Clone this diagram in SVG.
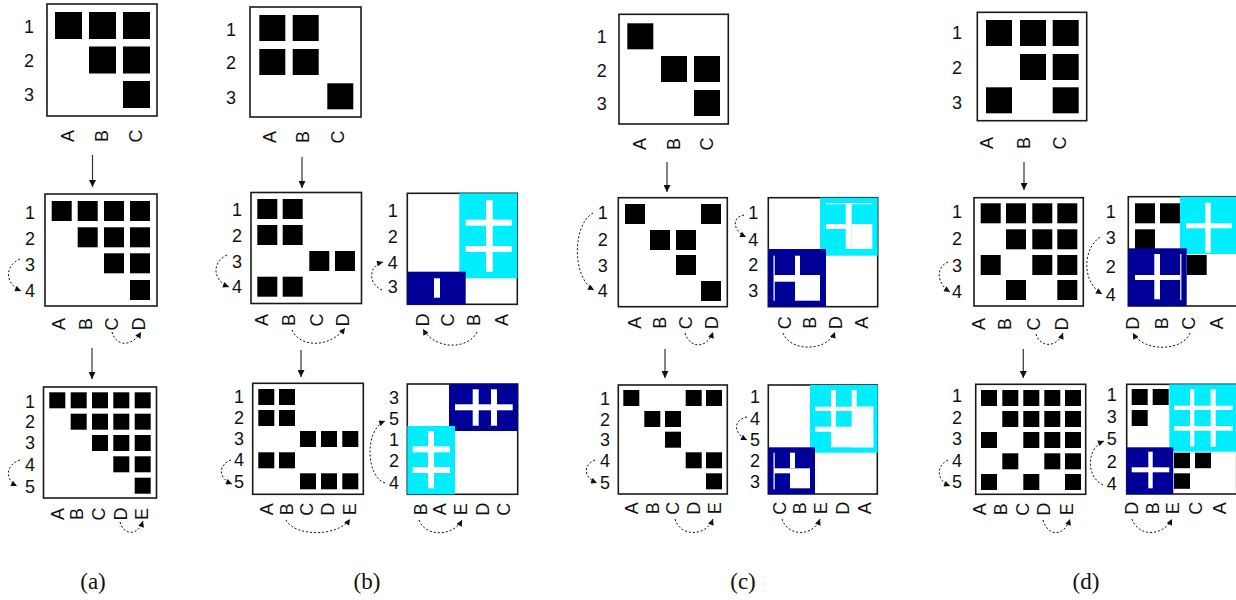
<svg xmlns="http://www.w3.org/2000/svg" width="1236" height="600" viewBox="0 0 1236 600">
<defs>
<style>
.box{fill:#fff;stroke:#1a1a1a;stroke-width:1.6}
.k{fill:#000}
.cy{fill:#00EEFF}
.nv{fill:#000099}
.w{fill:#fff}
.lb{font-family:"Liberation Sans",Arial,sans-serif;font-size:18px;fill:#111;text-anchor:middle;dominant-baseline:central}
.cap{font-family:"Liberation Serif","Times New Roman",serif;font-size:23px;fill:#111;text-anchor:middle;dominant-baseline:central}
.dot{fill:none;stroke:#111;stroke-width:1;stroke-dasharray:2 2;marker-end:url(#dh)}
.arr{fill:none;stroke:#333;stroke-width:1.2;marker-end:url(#ah)}
</style>
<marker id="ah" viewBox="0 0 10 10" refX="10" refY="5" markerWidth="8" markerHeight="7" orient="auto" markerUnits="userSpaceOnUse"><path d="M0,0 L10,5 L0,10 z" fill="#111"/></marker>
<marker id="dh" viewBox="0 0 10 10" refX="10" refY="5" markerWidth="7" markerHeight="6" orient="auto" markerUnits="userSpaceOnUse"><path d="M0,0 L10,5 L0,10 z" fill="#111"/></marker>
</defs>
<rect width="1236" height="600" fill="#fff"/>

<!-- ===== Panel (a) ===== -->
<g id="a1">
<rect class="box" x="47" y="4" width="110" height="112"/>
<rect class="k" x="55" y="12" width="27" height="27"/><rect class="k" x="89" y="12" width="27" height="27"/><rect class="k" x="123" y="12" width="27" height="27"/>
<rect class="k" x="89" y="46.5" width="27" height="27"/><rect class="k" x="123" y="46.5" width="27" height="27"/>
<rect class="k" x="123" y="81" width="27" height="27"/>
<text class="lb" x="29" y="27">1</text><text class="lb" x="29" y="61">2</text><text class="lb" x="29" y="95">3</text>
<text class="lb" transform="translate(68,136) rotate(-90)">A</text><text class="lb" transform="translate(102,136) rotate(-90)">B</text><text class="lb" transform="translate(136,136) rotate(-90)">C</text>
</g>
<g id="a2">
<rect class="box" x="45" y="194" width="112" height="112"/>
<rect class="k" x="51.7" y="201" width="20" height="20"/><rect class="k" x="77.7" y="201" width="20" height="20"/><rect class="k" x="104" y="201" width="20" height="20"/><rect class="k" x="130" y="201" width="20" height="20"/>
<rect class="k" x="77.7" y="227.3" width="20" height="20"/><rect class="k" x="104" y="227.3" width="20" height="20"/><rect class="k" x="130" y="227.3" width="20" height="20"/>
<rect class="k" x="104" y="253.3" width="20" height="20"/><rect class="k" x="130" y="253.3" width="20" height="20"/>
<rect class="k" x="130" y="280" width="20" height="20"/>
<text class="lb" x="30" y="213">1</text><text class="lb" x="30" y="239">2</text><text class="lb" x="30" y="265">3</text><text class="lb" x="30" y="291">4</text>
<text class="lb" transform="translate(59,324) rotate(-90)">A</text><text class="lb" transform="translate(86,324) rotate(-90)">B</text><text class="lb" transform="translate(112,324) rotate(-90)">C</text><text class="lb" transform="translate(139,324) rotate(-90)">D</text>
</g>
<g id="a3">
<rect class="box" x="43.5" y="387" width="113" height="111"/>
<rect class="k" x="49.3" y="392.3" width="16" height="16"/><rect class="k" x="70.7" y="392.3" width="16" height="16"/><rect class="k" x="92" y="392.3" width="16" height="16"/><rect class="k" x="113.3" y="392.3" width="16" height="16"/><rect class="k" x="134.7" y="392.3" width="16" height="16"/>
<rect class="k" x="70.7" y="413.7" width="16" height="16"/><rect class="k" x="92" y="413.7" width="16" height="16"/><rect class="k" x="113.3" y="413.7" width="16" height="16"/><rect class="k" x="134.7" y="413.7" width="16" height="16"/>
<rect class="k" x="92" y="435" width="16" height="16"/><rect class="k" x="113.3" y="435" width="16" height="16"/><rect class="k" x="134.7" y="435" width="16" height="16"/>
<rect class="k" x="113.3" y="456.3" width="16" height="16"/><rect class="k" x="134.7" y="456.3" width="16" height="16"/>
<rect class="k" x="134.7" y="477.7" width="16" height="16"/>
<text class="lb" x="30" y="401.7">1</text><text class="lb" x="30" y="422.3">2</text><text class="lb" x="30" y="443.3">3</text><text class="lb" x="30" y="465">4</text><text class="lb" x="30" y="486.7">5</text>
<text class="lb" transform="translate(57.5,514) rotate(-90)">A</text><text class="lb" transform="translate(77,514) rotate(-90)">B</text><text class="lb" transform="translate(98.5,514) rotate(-90)">C</text><text class="lb" transform="translate(120.5,514) rotate(-90)">D</text><text class="lb" transform="translate(142,514) rotate(-90)">E</text>
</g>

<!-- ===== Panel (b) ===== -->
<g id="b1">
<rect class="box" x="250" y="7" width="111" height="110"/>
<rect class="k" x="259.3" y="15" width="26" height="26"/><rect class="k" x="292.7" y="15" width="26" height="26"/>
<rect class="k" x="259.3" y="49" width="26" height="26"/><rect class="k" x="292.7" y="49" width="26" height="26"/>
<rect class="k" x="327.3" y="83.3" width="26" height="26"/>
<text class="lb" x="231" y="30">1</text><text class="lb" x="231" y="63">2</text><text class="lb" x="231" y="98">3</text>
<text class="lb" transform="translate(270,137) rotate(-90)">A</text><text class="lb" transform="translate(303,137) rotate(-90)">B</text><text class="lb" transform="translate(338,137) rotate(-90)">C</text>
</g>
<g id="b2">
<rect class="box" x="251" y="192.5" width="110.5" height="111"/>
<rect class="k" x="257.3" y="199" width="20" height="20"/><rect class="k" x="282.7" y="199" width="20" height="20"/>
<rect class="k" x="257.3" y="225" width="20" height="20"/><rect class="k" x="282.7" y="225" width="20" height="20"/>
<rect class="k" x="309.3" y="251" width="20" height="20"/><rect class="k" x="335" y="251" width="20" height="20"/>
<rect class="k" x="257.3" y="276.7" width="20" height="20"/><rect class="k" x="282.7" y="276.7" width="20" height="20"/>
<text class="lb" x="237" y="210">1</text><text class="lb" x="237" y="235.7">2</text><text class="lb" x="237" y="261.7">3</text><text class="lb" x="237" y="287.3">4</text>
<text class="lb" transform="translate(261.7,320) rotate(-90)">A</text><text class="lb" transform="translate(289.3,320) rotate(-90)">B</text><text class="lb" transform="translate(316.7,320) rotate(-90)">C</text><text class="lb" transform="translate(343.3,320) rotate(-90)">D</text>
</g>
<g id="b3">
<rect class="box" x="407.3" y="193.3" width="110" height="111"/>
<rect class="cy" x="459.3" y="193.3" width="58" height="85"/>
<rect class="w" x="486" y="200" width="6.7" height="71.7"/>
<rect class="w" x="465.7" y="219.7" width="46" height="6"/>
<rect class="w" x="465.7" y="246" width="46" height="6"/>
<rect class="nv" x="407.3" y="271.7" width="58.4" height="32.6"/>
<rect class="w" x="434" y="278.3" width="6" height="19.4"/>
<text class="lb" x="392.7" y="211">1</text><text class="lb" x="392.7" y="236.7">2</text><text class="lb" x="392.7" y="262.7">4</text><text class="lb" x="392.7" y="287.3">3</text>
<text class="lb" transform="translate(422.7,320) rotate(-90)">D</text><text class="lb" transform="translate(448.3,320) rotate(-90)">C</text><text class="lb" transform="translate(474,320) rotate(-90)">B</text><text class="lb" transform="translate(501.7,320) rotate(-90)">A</text>
</g>
<g id="b4">
<rect class="box" x="252.7" y="383.3" width="110.6" height="111"/>
<rect class="k" x="258.3" y="389" width="16" height="16"/><rect class="k" x="279" y="389" width="16" height="16"/>
<rect class="k" x="258.3" y="410" width="16" height="16"/><rect class="k" x="279" y="410" width="16" height="16"/>
<rect class="k" x="300" y="431" width="16" height="16"/><rect class="k" x="321" y="431" width="16" height="16"/><rect class="k" x="342.3" y="431" width="16" height="16"/>
<rect class="k" x="258.3" y="452.3" width="16" height="16"/><rect class="k" x="279" y="452.3" width="16" height="16"/>
<rect class="k" x="300" y="473.3" width="16" height="16"/><rect class="k" x="321" y="473.3" width="16" height="16"/><rect class="k" x="342.3" y="473.3" width="16" height="16"/>
<text class="lb" x="239" y="397.3">1</text><text class="lb" x="239" y="418.3">2</text><text class="lb" x="239" y="439.3">3</text><text class="lb" x="239" y="460">4</text><text class="lb" x="239" y="481.7">5</text>
<text class="lb" transform="translate(266.7,509.3) rotate(-90)">A</text><text class="lb" transform="translate(287.3,509.3) rotate(-90)">B</text><text class="lb" transform="translate(307.3,509.3) rotate(-90)">C</text><text class="lb" transform="translate(328.3,509.3) rotate(-90)">D</text><text class="lb" transform="translate(350,509.3) rotate(-90)">E</text>
</g>
<g id="b5">
<rect class="box" x="407.3" y="384" width="110.4" height="110.3"/>
<rect class="nv" x="449" y="384" width="68.7" height="47"/>
<rect class="w" x="455" y="404.3" width="57.7" height="6"/>
<rect class="w" x="472.7" y="389.3" width="6" height="36.4"/>
<rect class="w" x="491" y="389.3" width="6" height="36.4"/>
<rect class="cy" x="407.3" y="426" width="47.7" height="68.3"/>
<rect class="w" x="428" y="431" width="6" height="57.3"/>
<rect class="w" x="412.7" y="446.3" width="37.3" height="6"/>
<rect class="w" x="412.7" y="467" width="37.3" height="6"/>
<text class="lb" x="394" y="398.3">3</text><text class="lb" x="394" y="419.3">5</text><text class="lb" x="394" y="440">1</text><text class="lb" x="394" y="460.7">2</text><text class="lb" x="394" y="482.7">4</text>
<text class="lb" transform="translate(420.7,509.3) rotate(-90)">B</text><text class="lb" transform="translate(440,509.3) rotate(-90)">A</text><text class="lb" transform="translate(460.7,509.3) rotate(-90)">E</text><text class="lb" transform="translate(482.7,509.3) rotate(-90)">D</text><text class="lb" transform="translate(504,509.3) rotate(-90)">C</text>
</g>

<!-- ===== Panel (c) ===== -->
<g id="c1">
<rect class="box" x="619" y="14.3" width="109.3" height="109.7"/>
<rect class="k" x="627.3" y="23.3" width="26" height="26"/>
<rect class="k" x="661" y="56" width="26" height="26"/><rect class="k" x="694" y="56" width="26" height="26"/>
<rect class="k" x="694" y="90" width="26" height="26"/>
<text class="lb" x="601.7" y="37.3">1</text><text class="lb" x="601.7" y="70.7">2</text><text class="lb" x="601.7" y="104">3</text>
<text class="lb" transform="translate(640,144) rotate(-90)">A</text><text class="lb" transform="translate(674.3,144) rotate(-90)">B</text><text class="lb" transform="translate(706.7,144) rotate(-90)">C</text>
</g>
<g id="c2">
<rect class="box" x="618.3" y="197.7" width="109" height="109"/>
<rect class="k" x="625" y="204" width="20" height="20"/><rect class="k" x="701" y="204" width="20" height="20"/>
<rect class="k" x="650" y="230" width="20" height="20"/><rect class="k" x="676" y="230" width="20" height="20"/>
<rect class="k" x="676" y="255" width="20" height="20"/>
<rect class="k" x="701" y="281" width="20" height="20"/>
<text class="lb" x="602.7" y="213.3">1</text><text class="lb" x="602.7" y="240">2</text><text class="lb" x="602.7" y="266">3</text><text class="lb" x="602.7" y="290.7">4</text>
<text class="lb" transform="translate(635,322.7) rotate(-90)">A</text><text class="lb" transform="translate(660,322.7) rotate(-90)">B</text><text class="lb" transform="translate(686,322.7) rotate(-90)">C</text><text class="lb" transform="translate(711.7,322.7) rotate(-90)">D</text>
</g>
<g id="c3">
<rect class="box" x="768.3" y="197.7" width="109.4" height="109"/>
<rect class="cy" x="820" y="197.7" width="57.7" height="58"/>
<rect class="w" x="826" y="203" width="46" height="1.2"/>
<rect class="w" x="845.7" y="203" width="6" height="46"/>
<rect class="w" x="826" y="224" width="20" height="5"/>
<rect class="w" x="851.7" y="224" width="20.6" height="25"/>
<rect class="nv" x="768.3" y="249" width="57.7" height="57.7"/>
<rect class="w" x="773.5" y="255.7" width="1.2" height="45"/>
<rect class="w" x="795" y="255.7" width="5" height="19.3"/>
<rect class="w" x="774" y="275" width="21" height="6.7"/>
<rect class="w" x="795" y="275" width="25" height="25.7"/>
<text class="lb" x="753.3" y="213.3">1</text><text class="lb" x="753.3" y="240">4</text><text class="lb" x="753.3" y="265">2</text><text class="lb" x="753.3" y="290.7">3</text>
<text class="lb" transform="translate(785,322.7) rotate(-90)">C</text><text class="lb" transform="translate(810,322.7) rotate(-90)">B</text><text class="lb" transform="translate(836,322.7) rotate(-90)">D</text><text class="lb" transform="translate(861.7,322.7) rotate(-90)">A</text>
</g>
<g id="c4">
<rect class="box" x="618.3" y="385" width="109" height="109"/>
<rect class="k" x="623.3" y="390" width="16" height="16"/><rect class="k" x="685.7" y="390" width="16" height="16"/><rect class="k" x="706" y="390" width="16" height="16"/>
<rect class="k" x="644.3" y="411" width="16" height="16"/><rect class="k" x="665" y="411" width="16" height="16"/>
<rect class="k" x="665" y="431.7" width="16" height="16"/>
<rect class="k" x="685.7" y="452.3" width="16" height="16"/><rect class="k" x="706" y="452.3" width="16" height="16"/>
<rect class="k" x="706" y="473.3" width="16" height="16"/>
<text class="lb" x="605" y="399.3">1</text><text class="lb" x="605" y="420">2</text><text class="lb" x="605" y="440">3</text><text class="lb" x="605" y="460.7">4</text><text class="lb" x="605" y="482.7">5</text>
<text class="lb" transform="translate(631.7,508.3) rotate(-90)">A</text><text class="lb" transform="translate(652.7,508.3) rotate(-90)">B</text><text class="lb" transform="translate(673.3,508.3) rotate(-90)">C</text><text class="lb" transform="translate(694,508.3) rotate(-90)">D</text><text class="lb" transform="translate(715,508.3) rotate(-90)">E</text>
</g>
<g id="c5">
<rect class="box" x="768.3" y="385" width="109" height="109"/>
<rect class="cy" x="810" y="385" width="67.7" height="67.7"/>
<rect class="w" x="831" y="390" width="5" height="16.7"/>
<rect class="w" x="851.7" y="390" width="5" height="16.7"/>
<rect class="w" x="815" y="406.7" width="58.3" height="4.3"/>
<rect class="w" x="831" y="411" width="5" height="15.7"/>
<rect class="w" x="851.7" y="406.7" width="21.6" height="40.6"/>
<rect class="w" x="815" y="426.7" width="16" height="5"/>
<rect class="w" x="831" y="426.7" width="42.3" height="20.6"/>
<rect class="nv" x="768.3" y="447.3" width="46.7" height="46.7"/>
<rect class="w" x="773.5" y="452.7" width="1.2" height="36.6"/>
<rect class="w" x="790" y="452.7" width="5" height="15.6"/>
<rect class="w" x="774" y="468.3" width="16" height="5"/>
<rect class="w" x="790" y="468.3" width="20" height="20"/>
<text class="lb" x="755" y="397.3">1</text><text class="lb" x="755" y="419.3">4</text><text class="lb" x="755" y="440">5</text><text class="lb" x="755" y="460.7">2</text><text class="lb" x="755" y="481.7">3</text>
<text class="lb" transform="translate(780,508.3) rotate(-90)">C</text><text class="lb" transform="translate(800,508.3) rotate(-90)">B</text><text class="lb" transform="translate(820.7,508.3) rotate(-90)">E</text><text class="lb" transform="translate(843.3,508.3) rotate(-90)">D</text><text class="lb" transform="translate(865,508.3) rotate(-90)">A</text>
</g>

<!-- ===== Panel (d) ===== -->
<g id="d1">
<rect class="box" x="977.3" y="12.3" width="109.4" height="108.4"/>
<rect class="k" x="986" y="20" width="26" height="26"/><rect class="k" x="1020" y="20" width="26" height="26"/><rect class="k" x="1052.7" y="20" width="26" height="26"/>
<rect class="k" x="1020" y="54" width="26" height="26"/><rect class="k" x="1052.7" y="54" width="26" height="26"/>
<rect class="k" x="986" y="87.3" width="26" height="26"/><rect class="k" x="1052.7" y="87.3" width="26" height="26"/>
<text class="lb" x="957" y="33">1</text><text class="lb" x="957" y="68">2</text><text class="lb" x="957" y="103">3</text>
<text class="lb" transform="translate(987,143) rotate(-90)">A</text><text class="lb" transform="translate(1024,143) rotate(-90)">B</text><text class="lb" transform="translate(1060,143) rotate(-90)">C</text>
</g>
<g id="d2">
<rect class="box" x="974" y="197.7" width="109.3" height="108.3"/>
<rect class="k" x="980.7" y="203.3" width="20" height="20"/><rect class="k" x="1006" y="203.3" width="20" height="20"/><rect class="k" x="1032.3" y="203.3" width="20" height="20"/><rect class="k" x="1057.3" y="203.3" width="20" height="20"/>
<rect class="k" x="1006" y="229.3" width="20" height="20"/><rect class="k" x="1032.3" y="229.3" width="20" height="20"/><rect class="k" x="1057.3" y="229.3" width="20" height="20"/>
<rect class="k" x="980.7" y="255" width="20" height="20"/><rect class="k" x="1032.3" y="255" width="20" height="20"/><rect class="k" x="1057.3" y="255" width="20" height="20"/>
<rect class="k" x="1006" y="280" width="20" height="20"/><rect class="k" x="1057.3" y="280" width="20" height="20"/>
<text class="lb" x="957" y="212">1</text><text class="lb" x="957" y="239">2</text><text class="lb" x="957" y="266">3</text><text class="lb" x="957" y="292">4</text>
<text class="lb" transform="translate(979.3,324) rotate(-90)">A</text><text class="lb" transform="translate(1005,324) rotate(-90)">B</text><text class="lb" transform="translate(1034,324) rotate(-90)">C</text><text class="lb" transform="translate(1061.7,324) rotate(-90)">D</text>
</g>
<g id="d3">
<rect class="box" x="1128.3" y="196.7" width="109" height="109.3"/>
<rect class="k" x="1135" y="203.3" width="20" height="20"/><rect class="k" x="1160" y="203.3" width="20" height="20"/>
<rect class="k" x="1135" y="229.3" width="20" height="20"/>
<rect class="k" x="1186.7" y="255" width="20" height="20"/>
<rect class="cy" x="1180" y="196.7" width="57" height="57.3"/>
<rect class="w" x="1205.3" y="202.7" width="5.4" height="50"/>
<rect class="w" x="1186" y="223.3" width="45.7" height="5"/>
<rect class="nv" x="1128.3" y="248.3" width="58.4" height="57.7"/>
<rect class="w" x="1154.3" y="254" width="5.7" height="45.3"/>
<rect class="w" x="1135" y="275" width="45" height="5"/>
<rect class="w" x="1180.2" y="254" width="1.2" height="46"/>
<text class="lb" x="1110.7" y="211.7">1</text><text class="lb" x="1110.7" y="238.3">3</text><text class="lb" x="1110.7" y="266.7">2</text><text class="lb" x="1110.7" y="295">4</text>
<text class="lb" transform="translate(1133.3,323.3) rotate(-90)">D</text><text class="lb" transform="translate(1161.7,323.3) rotate(-90)">B</text><text class="lb" transform="translate(1189.3,323.3) rotate(-90)">C</text><text class="lb" transform="translate(1216.7,323.3) rotate(-90)">A</text>
</g>
<g id="d4">
<rect class="box" x="975.7" y="384.3" width="110" height="110"/>
<rect class="k" x="981" y="390" width="16" height="16"/><rect class="k" x="1002.3" y="390" width="16" height="16"/><rect class="k" x="1023.3" y="390" width="16" height="16"/><rect class="k" x="1044.3" y="390" width="16" height="16"/><rect class="k" x="1065" y="390" width="16" height="16"/>
<rect class="k" x="1002.3" y="411" width="16" height="16"/><rect class="k" x="1023.3" y="411" width="16" height="16"/><rect class="k" x="1044.3" y="411" width="16" height="16"/><rect class="k" x="1065" y="411" width="16" height="16"/>
<rect class="k" x="981" y="432" width="16" height="16"/><rect class="k" x="1023.3" y="432" width="16" height="16"/><rect class="k" x="1044.3" y="432" width="16" height="16"/><rect class="k" x="1065" y="432" width="16" height="16"/>
<rect class="k" x="1002.3" y="453.3" width="16" height="16"/><rect class="k" x="1044.3" y="453.3" width="16" height="16"/><rect class="k" x="1065" y="453.3" width="16" height="16"/>
<rect class="k" x="981" y="474" width="16" height="16"/><rect class="k" x="1023.3" y="474" width="16" height="16"/><rect class="k" x="1065" y="474" width="16" height="16"/>
<text class="lb" x="957" y="396">1</text><text class="lb" x="957" y="418">2</text><text class="lb" x="957" y="439">3</text><text class="lb" x="957" y="461">4</text><text class="lb" x="957" y="482">5</text>
<text class="lb" transform="translate(980,509.3) rotate(-90)">A</text><text class="lb" transform="translate(1001,509.3) rotate(-90)">B</text><text class="lb" transform="translate(1022.7,509.3) rotate(-90)">C</text><text class="lb" transform="translate(1044,509.3) rotate(-90)">D</text><text class="lb" transform="translate(1067.3,509.3) rotate(-90)">E</text>
</g>
<g id="d5">
<rect class="box" x="1126.7" y="384.3" width="110" height="109.7"/>
<rect class="k" x="1131.7" y="389" width="16" height="16"/><rect class="k" x="1152.7" y="389" width="16" height="16"/>
<rect class="k" x="1131.7" y="410" width="16" height="16"/>
<rect class="k" x="1174" y="452.7" width="16" height="15.5"/><rect class="k" x="1195" y="452.7" width="16" height="15.5"/>
<rect class="k" x="1174" y="473.3" width="16" height="15.5"/>
<rect class="cy" x="1169.3" y="384.3" width="68" height="67.4"/>
<rect class="w" x="1190" y="389.3" width="4.3" height="57.4"/>
<rect class="w" x="1210.7" y="389.3" width="5" height="57.4"/>
<rect class="w" x="1174" y="405.7" width="58.7" height="4.3"/>
<rect class="w" x="1174" y="426" width="58.7" height="4.7"/>
<rect class="nv" x="1126.7" y="447.3" width="46.6" height="46.7"/>
<rect class="w" x="1148.3" y="451.7" width="4.4" height="36.6"/>
<rect class="w" x="1131.7" y="467.3" width="37.6" height="5"/>
<text class="lb" x="1111.7" y="395">1</text><text class="lb" x="1111.7" y="417.3">3</text><text class="lb" x="1111.7" y="439.3">5</text><text class="lb" x="1111.7" y="461.7">2</text><text class="lb" x="1111.7" y="484">4</text>
<text class="lb" transform="translate(1131.7,508.3) rotate(-90)">D</text><text class="lb" transform="translate(1152.7,508.3) rotate(-90)">B</text><text class="lb" transform="translate(1173.3,508.3) rotate(-90)">E</text><text class="lb" transform="translate(1196,508.3) rotate(-90)">C</text><text class="lb" transform="translate(1220,508.3) rotate(-90)">A</text>
</g>

<!-- captions -->
<g id="captions">
<text class="cap" x="93" y="581">(a)</text>
<text class="cap" x="367" y="581">(b)</text>
<text class="cap" x="743" y="581">(c)</text>
<text class="cap" x="1086" y="581">(d)</text>
</g>

<!-- connectors -->
<g id="connectors">
<path class="arr" d="M92.5 155 V187"/>
<path class="arr" d="M92 348 V379"/>
<path class="arr" d="M302 157 V188"/>
<path class="arr" d="M301 350 V377"/>
<path class="arr" d="M667 162 V192"/>
<path class="arr" d="M665 349 V378"/>
<path class="arr" d="M1024 162 V190"/>
<path class="arr" d="M1023.3 349 V378"/>

<path class="dot" d="M20 259 C4 266 5 284 21 291"/>
<path class="dot" d="M112 332 C116 347 132 347 141 332"/>
<path class="dot" d="M20 460 C5 465 5 480 17 486"/>
<path class="dot" d="M120 522 C124 536 138 536 143 521"/>

<path class="dot" d="M227 255 C212 262 212 280 229 287"/>
<path class="dot" d="M292 330 C300 348 330 348 345 328"/>
<path class="dot" d="M382 290 C368 284 368 266 383 262"/>
<path class="dot" d="M477 332 C468 350 435 350 423 329"/>
<path class="dot" d="M231 460 C218 465 218 478 232 484"/>
<path class="dot" d="M286 520 C295 537 338 537 350 519"/>
<path class="dot" d="M385 483 C366 477 364 430 385 421"/>
<path class="dot" d="M419 520 C425 537 453 537 462 520"/>

<path class="dot" d="M593 213 C572 225 572 278 594 290"/>
<path class="dot" d="M685 333 C690 349 707 349 713 332"/>
<path class="dot" d="M744 215 C732 217 732 230 746 237"/>
<path class="dot" d="M783 333 C790 352 827 352 835 332"/>
<path class="dot" d="M595 460 C583 465 583 477 597 483"/>
<path class="dot" d="M675 519 C680 537 706 537 713 519"/>
<path class="dot" d="M747 417 C733 420 733 433 747 440"/>
<path class="dot" d="M782 519 C788 537 813 537 820 519"/>

<path class="dot" d="M948 262 C936 267 936 283 950 292"/>
<path class="dot" d="M1036 334 C1040 348 1057 348 1063 333"/>
<path class="dot" d="M1100 237 C1082 250 1082 282 1102 294"/>
<path class="dot" d="M1190 333 C1182 352 1143 352 1133 333"/>
<path class="dot" d="M948 460 C936 466 936 480 950 486"/>
<path class="dot" d="M1043 520 C1048 537 1064 537 1070 519"/>
<path class="dot" d="M1103 485 C1086 477 1086 448 1104 441"/>
<path class="dot" d="M1132 519 C1138 537 1163 537 1172 519"/>
</g>
</svg>
